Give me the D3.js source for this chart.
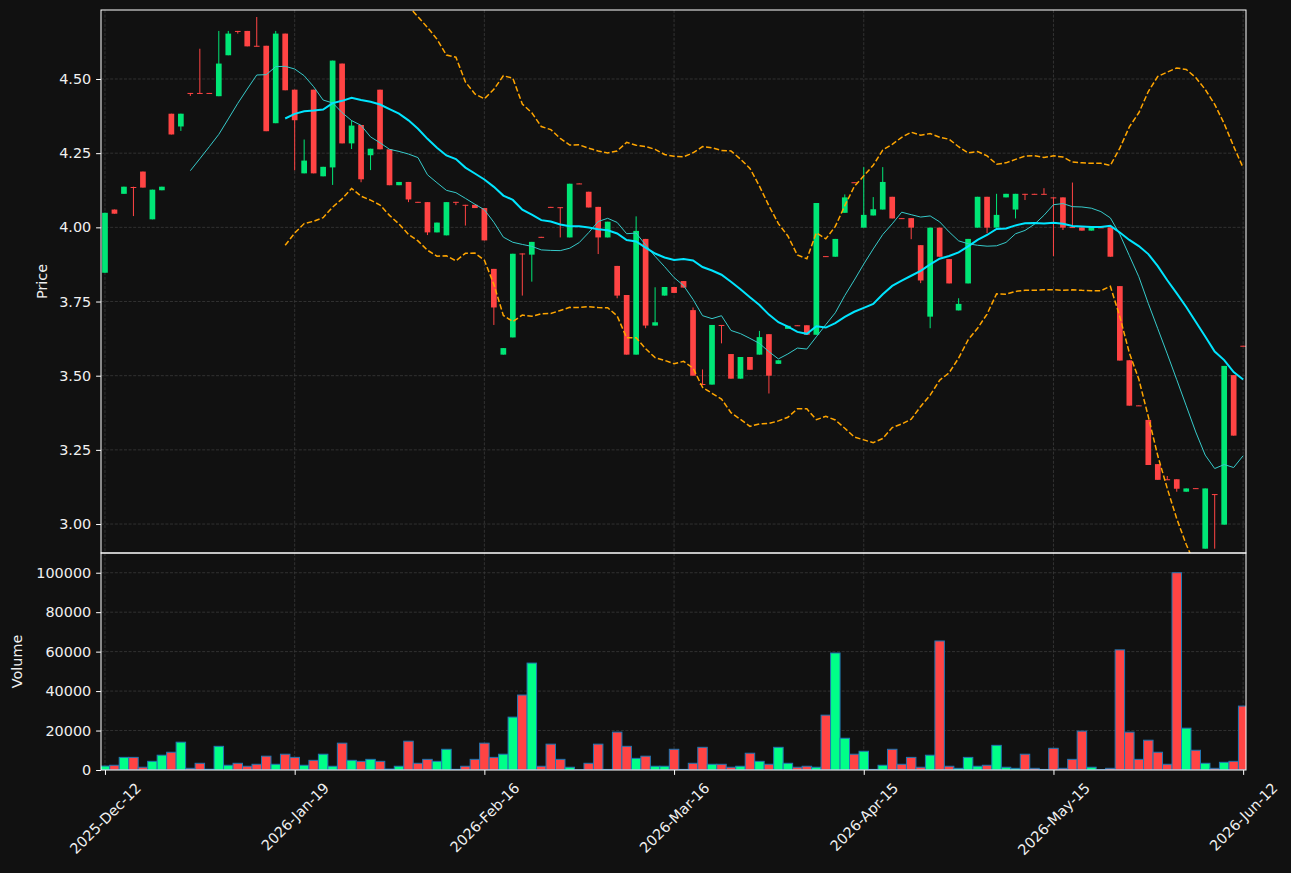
<!DOCTYPE html>
<html><head><meta charset="utf-8">
<script src="https://cdn.jsdelivr.net/npm/d3@7"></script>
<style>
html,body{margin:0;padding:0;background:#111111;}
svg{display:block;font-family:"DejaVu Sans",sans-serif;}
</style></head><body>
<svg id="chart" width="1291" height="873"></svg>
<script>
const opens = [3.847,4.060,4.113,4.136,4.188,4.027,4.125,4.383,4.340,4.453,
4.453,4.453,4.442,4.580,4.662,4.662,4.612,4.612,4.351,4.653,
4.464,4.182,4.464,4.172,4.202,4.552,4.283,4.345,4.243,4.464,
4.263,4.142,4.153,4.086,4.085,3.983,3.973,4.086,4.076,4.076,
4.065,3.860,3.571,3.629,3.912,3.908,3.968,4.069,4.068,3.966,
4.148,4.120,4.069,3.966,3.870,3.772,3.571,3.961,3.669,3.770,
3.799,3.819,3.721,3.472,3.470,3.671,3.573,3.490,3.563,3.571,
3.640,3.540,3.658,3.670,3.670,3.638,3.903,3.901,4.049,4.152,
3.999,4.040,4.060,4.103,4.031,4.031,3.940,3.699,3.999,3.893,
3.720,3.811,3.999,4.103,3.999,4.101,4.060,4.113,4.113,4.113,
4.101,4.101,4.001,4.000,3.989,4.000,4.000,3.802,3.552,3.400,
3.351,3.202,3.151,3.151,3.109,3.121,2.917,3.101,2.998,3.502,
3.601];
const highs = [4.049,4.060,4.137,4.137,4.188,4.127,4.137,4.383,4.383,4.453,
4.602,4.453,4.662,4.662,4.662,4.662,4.709,4.612,4.662,4.653,
4.464,4.296,4.464,4.204,4.562,4.552,4.360,4.345,4.265,4.464,
4.263,4.153,4.153,4.086,4.085,4.016,4.085,4.086,4.076,4.076,
4.065,3.860,3.593,3.911,3.912,3.951,3.968,4.069,4.068,4.147,
4.148,4.120,4.069,4.019,3.870,3.772,4.037,3.961,3.798,3.799,
3.799,3.819,3.730,3.521,3.671,3.671,3.573,3.563,3.563,3.651,
3.640,3.552,3.668,3.670,3.670,4.082,3.903,3.961,4.111,4.152,
4.203,4.102,4.203,4.103,4.031,4.031,3.940,3.999,3.999,3.893,
3.761,3.961,4.103,4.103,4.113,4.113,4.113,4.113,4.113,4.132,
4.101,4.101,4.151,4.000,4.000,4.000,4.000,3.802,3.552,3.400,
3.351,3.202,3.162,3.151,3.120,3.121,3.120,3.101,3.533,3.502,
3.601];
const lows = [3.847,4.046,4.113,4.038,4.134,4.027,4.125,4.313,4.325,4.443,
4.452,4.452,4.442,4.580,4.653,4.610,4.610,4.324,4.351,4.462,
4.192,4.182,4.182,4.172,4.143,4.283,4.264,4.152,4.193,4.263,
4.142,4.142,4.085,4.084,3.974,3.983,3.973,4.075,4.006,4.065,
3.956,3.671,3.571,3.629,3.770,3.817,3.966,4.067,3.966,3.966,
4.146,4.067,3.910,3.966,3.761,3.571,3.571,3.660,3.669,3.770,
3.779,3.797,3.500,3.470,3.470,3.609,3.490,3.490,3.520,3.571,
3.440,3.540,3.658,3.668,3.638,3.638,3.901,3.901,4.049,4.150,
3.999,4.040,4.060,4.030,4.029,3.960,3.812,3.660,3.901,3.811,
3.720,3.811,3.999,3.980,3.999,4.101,4.030,4.092,4.111,4.111,
3.903,3.991,3.999,3.989,3.989,3.999,3.901,3.551,3.399,3.398,
3.199,3.149,3.149,3.109,3.109,3.119,2.917,2.917,2.998,3.298,
3.599];
const closes = [4.049,4.046,4.137,4.134,4.134,4.127,4.137,4.313,4.383,4.450,
4.452,4.452,4.552,4.653,4.660,4.610,4.610,4.324,4.653,4.462,
4.361,4.225,4.182,4.204,4.562,4.283,4.343,4.162,4.265,4.263,
4.142,4.153,4.094,4.084,3.983,4.016,4.085,4.084,4.074,4.065,
3.956,3.730,3.593,3.911,3.910,3.951,3.966,4.067,4.066,4.147,
4.146,4.067,3.966,4.019,3.770,3.571,3.988,3.669,3.680,3.799,
3.779,3.797,3.500,3.470,3.671,3.669,3.490,3.563,3.520,3.630,
3.500,3.552,3.668,3.668,3.638,4.082,3.901,3.961,4.101,4.150,
4.042,4.061,4.153,4.030,4.029,3.999,3.821,3.999,3.901,3.811,
3.742,3.961,4.103,3.999,4.042,4.113,4.113,4.111,4.111,4.111,
4.099,3.999,3.999,3.989,4.000,3.999,3.901,3.551,3.399,3.398,
3.199,3.149,3.149,3.119,3.120,3.119,3.120,3.099,3.533,3.298,
3.599];
const volumes = [2000,2400,6400,6400,1400,4400,7500,9000,14100,850,
3400,400,12000,2400,3400,1900,2900,7000,2900,8000,
6400,2400,4900,8000,1900,13600,4900,4400,5400,4400,
500,1900,14600,3400,5400,4400,10500,350,1900,5400,
13600,6400,8000,26800,38000,54200,1900,13100,5400,1400,
150,3400,13100,300,19200,12000,5900,7000,1900,1900,
10500,300,3400,11500,2900,2900,1400,1900,8500,4400,
2900,11500,3400,1400,1900,1400,27800,59300,16100,8000,
9500,300,2400,10500,2900,6400,1400,7500,65400,1900,
850,6400,1900,2400,12500,1400,850,8000,850,300,
11000,850,5400,19700,1400,200,850,60900,19200,5400,
15100,9000,2900,100000,21200,10000,3400,850,3900,4400,
32400];
const tickIndex = [0,20,40,60,80,100,120];
const tickLabels = ["2025-Dec-12","2026-Jan-19","2026-Feb-16","2026-Mar-16","2026-Apr-15","2026-May-15","2026-Jun-12"];
const priceTicks = [3.00,3.25,3.50,3.75,4.00,4.25,4.50];
const volumeTicks = [0,20000,40000,60000,80000,100000];

const UP = "#00e676", DOWN = "#ff4444";
const VUP = "#00ff88", VDOWN = "#ff4444";
const TXT = "#f0f0f0", FS = 14.4;
const L = 101, R = 1246, PT = 10, PB = 553, VT = 553, VB = 770;
const n = closes.length;
const idx = d3.range(n);

const svg = d3.select("#chart");
svg.append("rect").attr("width",1291).attr("height",873).attr("fill","#111111");

const x = d3.scaleLinear().domain([-0.42, 120.3]).range([L, R]);
const step = x(1) - x(0);
const yP = d3.scaleLinear().domain([d3.min(lows)*0.995, d3.max(highs)*1.005]).range([PB, PT]);
const yV = d3.scaleLinear().domain([0, d3.max(volumes)*1.1]).range([VB, VT]);

const defs = svg.append("defs");
defs.append("clipPath").attr("id","cp").append("rect").attr("x",L).attr("y",PT).attr("width",R-L).attr("height",PB-PT);
defs.append("clipPath").attr("id","cv").append("rect").attr("x",L).attr("y",VT).attr("width",R-L).attr("height",VB-VT);

const gridColor = "#3a3a3a";
function grid(g, yScale, ticks, top, bottom){
  g.selectAll("line.h").data(ticks).join("line").attr("class","h")
    .attr("x1",L).attr("x2",R).attr("y1",d=>yScale(d)).attr("y2",d=>yScale(d))
    .attr("stroke",gridColor).attr("stroke-width",0.8).attr("stroke-dasharray","3,1.6");
  g.selectAll("line.v").data(tickIndex).join("line").attr("class","v")
    .attr("x1",d=>x(d)).attr("x2",d=>x(d)).attr("y1",top).attr("y2",bottom)
    .attr("stroke",gridColor).attr("stroke-width",0.8).attr("stroke-dasharray","3,1.6");
}
grid(svg.append("g").attr("clip-path","url(#cp)"), yP, priceTicks, PT, PB);
grid(svg.append("g").attr("clip-path","url(#cv)"), yV, volumeTicks, VT, VB);

// candles
const gc = svg.append("g").attr("clip-path","url(#cp)");
const up = i => closes[i] >= opens[i];
gc.selectAll("line.w").data(idx).join("line").attr("class","w")
  .attr("x1",i=>x(i)).attr("x2",i=>x(i))
  .attr("y1",i=>yP(highs[i])).attr("y2",i=>yP(lows[i]))
  .attr("stroke",i=>up(i)?UP:DOWN).attr("stroke-width",1);
const bw = step*0.6;
gc.selectAll("rect.b").data(idx).join("rect").attr("class","b")
  .attr("x",i=>x(i)-bw/2).attr("width",bw)
  .attr("y",i=>yP(Math.max(opens[i],closes[i])))
  .attr("height",i=>Math.max(1, Math.abs(yP(opens[i])-yP(closes[i]))))
  .attr("fill",i=>up(i)?UP:DOWN);

// indicators: 10/20 SMA and 20-period Bollinger bands (2 sigma, population std)
function sma(p){ return idx.map(i => i < p-1 ? null : d3.mean(closes.slice(i-p+1,i+1))); }
function psd(p){ return idx.map(i => {
  if (i < p-1) return null;
  const w = closes.slice(i-p+1,i+1), m = d3.mean(w);
  return Math.sqrt(d3.mean(w, v => (v-m)*(v-m)));
}); }
const ma20 = sma(20), ma10 = sma(10), sd20 = psd(20);
const upper = idx.map(i => ma20[i]==null?null:ma20[i]+2*sd20[i]);
const lower = idx.map(i => ma20[i]==null?null:ma20[i]-2*sd20[i]);
const line = arr => d3.line().defined(i=>arr[i]!=null).x(i=>x(i)).y(i=>yP(arr[i]))(idx);
const gl = svg.append("g").attr("clip-path","url(#cp)");
gl.append("path").attr("d",line(upper)).attr("fill","none").attr("stroke","#ffa500").attr("stroke-width",1.5).attr("stroke-dasharray","5.5,2.4");
gl.append("path").attr("d",line(lower)).attr("fill","none").attr("stroke","#ffa500").attr("stroke-width",1.5).attr("stroke-dasharray","5.5,2.4");
gl.append("path").attr("d",line(ma10)).attr("fill","none").attr("stroke","#36caca").attr("stroke-width",1);
gl.append("path").attr("d",line(ma20)).attr("fill","none").attr("stroke","#00e5ff").attr("stroke-width",2);

// volume
const gv = svg.append("g").attr("clip-path","url(#cv)");
gv.selectAll("rect").data(idx).join("rect")
  .attr("x",i=>x(i)-step/2).attr("width",step)
  .attr("y",i=>yV(volumes[i])).attr("height",i=>yV(0)-yV(volumes[i]))
  .attr("fill",i=>up(i)?VUP:VDOWN).attr("stroke","#1f77b4").attr("stroke-width",1);

// frames
svg.append("rect").attr("x",L).attr("y",PT).attr("width",R-L).attr("height",PB-PT).attr("fill","none").attr("stroke","#ffffff").attr("stroke-width",1);
svg.append("rect").attr("x",L).attr("y",VT).attr("width",R-L).attr("height",VB-VT).attr("fill","none").attr("stroke","#ffffff").attr("stroke-width",1);

function styleAxis(g){
  g.attr("font-family","DejaVu Sans").attr("font-size",FS);
  g.select(".domain").remove();
  g.selectAll(".tick line").attr("stroke","#ffffff");
  g.selectAll(".tick text").attr("fill",TXT).attr("font-size",FS).attr("font-family","DejaVu Sans");
}
svg.append("g").attr("transform",`translate(${L},0)`)
  .call(d3.axisLeft(yP).tickValues(priceTicks).tickFormat(d3.format(".2f")).tickSize(4.9).tickPadding(4.9))
  .call(styleAxis);
svg.append("g").attr("transform",`translate(${L},0)`)
  .call(d3.axisLeft(yV).tickValues(volumeTicks).tickFormat(d3.format("d")).tickSize(4.9).tickPadding(4.9))
  .call(styleAxis);
const xa = svg.append("g").attr("transform",`translate(0,${VB})`)
  .call(d3.axisBottom(x).tickValues(tickIndex).tickFormat((d,i)=>tickLabels[i]).tickSize(4.9))
  .call(styleAxis);
xa.selectAll(".tick text").each(function(){
  const t = d3.select(this);
  const len = this.getComputedTextLength();
  const H = (len + 16) * Math.SQRT1_2;
  t.attr("y",null).attr("dy",null).attr("text-anchor","middle").attr("dominant-baseline","central")
   .attr("transform",`translate(0,${9.8 + H/2}) rotate(-45)`);
});

svg.append("text").attr("transform",`translate(42,${(PT+PB)/2}) rotate(-90)`)
  .attr("text-anchor","middle").attr("dominant-baseline","central")
  .attr("fill",TXT).attr("font-size",FS).text("Price");
svg.append("text").attr("transform",`translate(17,${(VT+VB)/2}) rotate(-90)`)
  .attr("text-anchor","middle").attr("dominant-baseline","central")
  .attr("fill",TXT).attr("font-size",FS).text("Volume");
</script>
</body></html>
